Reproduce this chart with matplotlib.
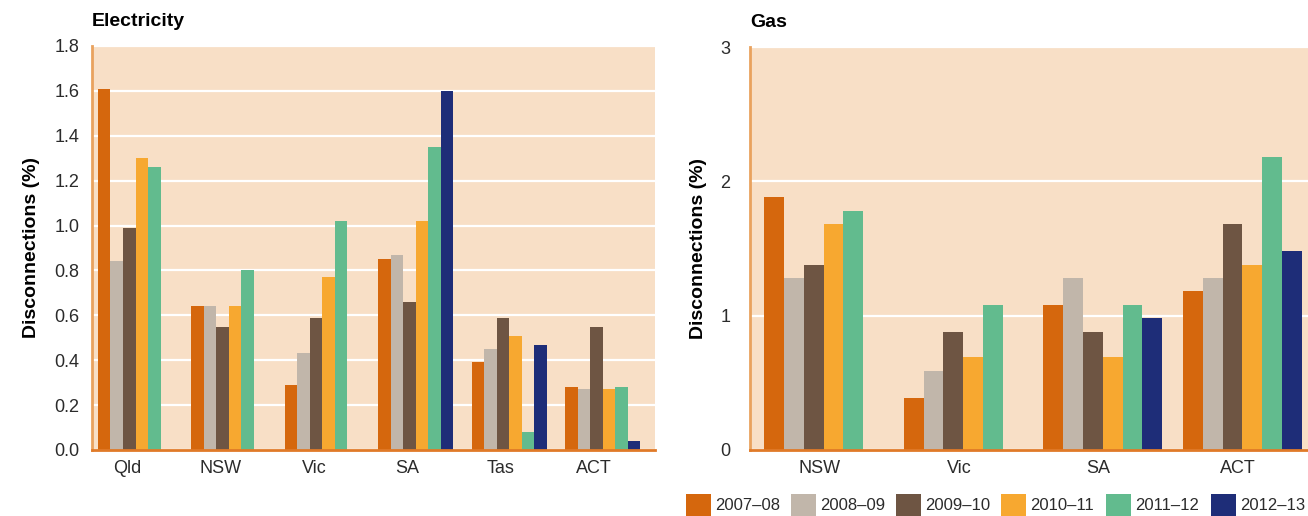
import numpy as np
import matplotlib
matplotlib.use("Agg")
import matplotlib.pyplot as plt
from matplotlib.patches import Rectangle

# ---- data -------------------------------------------------------------
years = ["2007–08", "2008–09", "2009–10", "2010–11", "2011–12", "2012–13"]
colors = ["#D5670D", "#C1B6AA", "#6E5543", "#F7A830", "#62BB8E", "#1E2D78"]

elec_regions = ["Qld", "NSW", "Vic", "SA", "Tas", "ACT"]
elec_2007_08 = [1.61, 0.64, 0.29, 0.85, 0.39, 0.28]
elec_2008_09 = [0.84, 0.64, 0.43, 0.87, 0.45, 0.27]
elec_2009_10 = [0.99, 0.55, 0.59, 0.66, 0.59, 0.55]
elec_2010_11 = [1.30, 0.64, 0.77, 1.02, 0.51, 0.27]
elec_2011_12 = [1.26, 0.80, 1.02, 1.35, 0.08, 0.28]
elec_2012_13 = [np.nan, np.nan, np.nan, 1.60, 0.47, 0.04]

gas_regions = ["NSW", "Vic", "SA", "ACT"]
gas_2007_08 = [1.88, 0.39, 1.08, 1.18]
gas_2008_09 = [1.28, 0.59, 1.28, 1.28]
gas_2009_10 = [1.38, 0.88, 0.88, 1.68]
gas_2010_11 = [1.68, 0.69, 0.69, 1.38]
gas_2011_12 = [1.78, 1.08, 1.08, 2.18]
gas_2012_13 = [np.nan, np.nan, 0.98, 1.48]

elec_series = [elec_2007_08, elec_2008_09, elec_2009_10,
               elec_2010_11, elec_2011_12, elec_2012_13]
gas_series = [gas_2007_08, gas_2008_09, gas_2009_10,
              gas_2010_11, gas_2011_12, gas_2012_13]

# ---- styling ----------------------------------------------------------
BG = "#F8DFC6"
TXT = "#2b2b2b"
plt.rcParams["font.family"] = ["Liberation Sans", "DejaVu Sans"]

fig = plt.figure(figsize=(13.08, 5.16), dpi=100)
W, H = 1308, 516


def px_axes(left, top, right, bottom):
    return fig.add_axes([left / W, 1 - bottom / H, (right - left) / W, (bottom - top) / H])


def style(ax, ylim, yticks, fmt, ypad):
    ax.set_facecolor(BG)
    ax.set_ylim(*ylim)
    ax.set_yticks(yticks)
    ax.set_yticklabels([fmt.format(t) for t in yticks])
    ax.grid(axis="y", color="white", linewidth=1.6)
    ax.set_axisbelow(True)
    for s in ("top", "right"):
        ax.spines[s].set_visible(False)
    ax.spines["left"].set_color("#E9A25E")
    ax.spines["left"].set_linewidth(2)
    ax.spines["bottom"].set_color("#E07A28")
    ax.spines["bottom"].set_linewidth(2)
    ax.tick_params(axis="both", length=0, labelsize=13, colors=TXT)
    ax.tick_params(axis="y", pad=ypad)
    ax.tick_params(axis="x", pad=7)
    ax.set_ylabel("Disconnections (%)", fontsize=14, fontweight="bold",
                  color="black", labelpad=10)


def draw_bars(ax, series, width):
    n = len(series)
    x = np.arange(len(series[0]))
    for j, (vals, c) in enumerate(zip(series, colors)):
        ax.bar(x + (j - (n - 1) / 2) * width, vals, width=width, color=c,
               linewidth=0, label=years[j])
    return x


# Electricity panel
ax1 = px_axes(92, 46, 655, 450)
w1 = 0.134
x1 = draw_bars(ax1, elec_series, w1)
ax1.set_xlim(-0.466, 5.56)
ax1.set_xticks(x1 - 0.09)
ax1.set_xticklabels(elec_regions)
style(ax1, (0, 1.8), np.arange(0, 1.81, 0.2), "{:.1f}", 9)
ax1.text(0.0, 1.04, "Electricity", transform=ax1.transAxes, fontsize=14,
         fontweight="bold", ha="left", va="bottom", color="black")

# Gas panel
ax2 = px_axes(750, 47, 1308, 450)
w2 = 0.142
x2 = draw_bars(ax2, gas_series, w2)
ax2.set_xlim(-0.527, 3.47)
ax2.set_xticks(x2 - 0.03)
ax2.set_xticklabels(gas_regions)
style(ax2, (0, 3), [0, 1, 2, 3], "{:d}", 14)
ax2.text(0.0, 1.04, "Gas", transform=ax2.transAxes, fontsize=14,
         fontweight="bold", ha="left", va="bottom", color="black")

# Legend row along the bottom right
lx0, ly, step, sw, sh = 686, 494, 105, 25, 22
for i, (lab, c) in enumerate(zip(years, colors)):
    x0 = lx0 + i * step
    fig.patches.append(Rectangle((x0 / W, 1 - (ly + sh) / H), sw / W, sh / H,
                                 transform=fig.transFigure, color=c, linewidth=0))
    fig.text((x0 + sw + 4) / W, 1 - (ly + sh / 2) / H, lab, fontsize=12,
             color=TXT, ha="left", va="center")

fig.savefig("out.png", dpi=100)
